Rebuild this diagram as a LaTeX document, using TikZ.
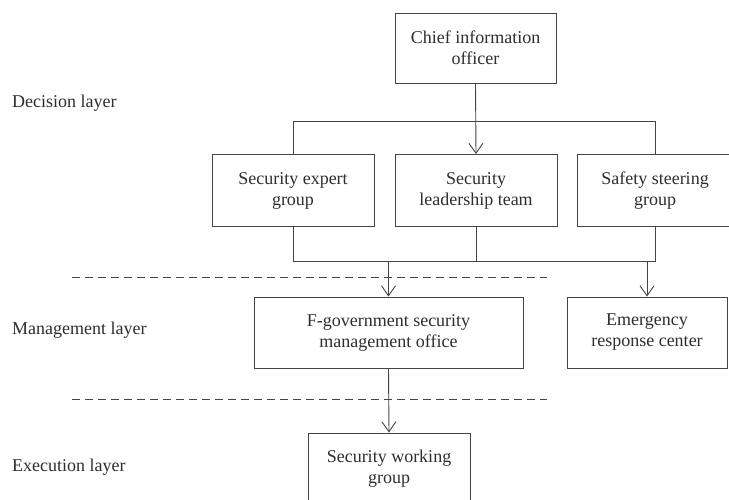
\documentclass[tikz,border=0pt]{standalone}
\usepackage{fontspec}
\setmainfont{Liberation Serif}
\usetikzlibrary{arrows.meta}
\definecolor{linec}{HTML}{444444}
\definecolor{textc}{HTML}{2E2E2E}
\begin{document}
\begin{tikzpicture}[x=1pt,y=-1pt,
  box/.style={draw=linec, line width=0.9pt, align=center, inner sep=0pt, text=textc,
    font=\fontsize{18}{21}\selectfont, minimum width=162pt, minimum height=72pt},
  conn/.style={draw=linec, line width=0.9pt},
  arr/.style={conn, -{Straight Barb[length=10pt,width=14pt,line width=0.9pt]}},
  sep/.style={draw=linec, line width=0.9pt, dash pattern=on 8pt off 5pt},
  layer/.style={anchor=west, inner sep=0pt, text=textc, font=\fontsize{18}{21}\selectfont}]
\useasboundingbox (0,0) rectangle (729,500);
\fill[white] (0,0) rectangle (729,500);

\node[box, minimum width=161pt, minimum height=70pt] (chief) at (475.5,48) {Chief information\\officer};
\node[box] (expert) at (293,190.5) {Security expert\\group};
\node[box] (leader) at (476,190.5) {Security\\leadership team};
\node[box, minimum width=156pt] (safety) at (655,190.5) {Safety steering\\group};
\node[box, minimum width=269pt, minimum height=71pt] (fgov) at (388.5,332.5) {F-government security\\management office};
\node[box, minimum width=160pt, minimum height=71pt] (emerg) at (647,332.5) {Emergency\\response center};
\node[box, minimum height=72pt] (work) at (389,469) {Security working\\group};

\node[layer] (ldec) at (12,103) {Decision layer};
\node[layer] (lman) at (12,330) {Management layer};
\node[layer] (lexe) at (12,467) {Execution layer};

\coordinate (bus1) at (0,121);
\coordinate (bus2) at (0,261);
\coordinate (d1s) at (72,277);
\coordinate (d1e) at (547,277);
\coordinate (d2s) at (72,399);
\coordinate (d2e) at (547,399);

\draw[conn] (expert.north) -- (expert.north |- bus1) -- (safety.north |- bus1) -- (safety.north);
\draw[arr] (chief.south) -- (leader.north);
\draw[conn] (expert.south) -- (expert.south |- bus2) -- (safety.south |- bus2) -- (safety.south);
\draw[conn] (leader.south) -- (leader.south |- bus2);
\draw[arr] (fgov.north |- bus2) -- (fgov.north);
\draw[arr] (emerg.north |- bus2) -- (emerg.north);
\draw[arr] (fgov.south) -- (work.north);

\draw[sep] (d1s) -- (d1e);
\draw[sep] (d2s) -- (d2e);
\end{tikzpicture}
\end{document}
